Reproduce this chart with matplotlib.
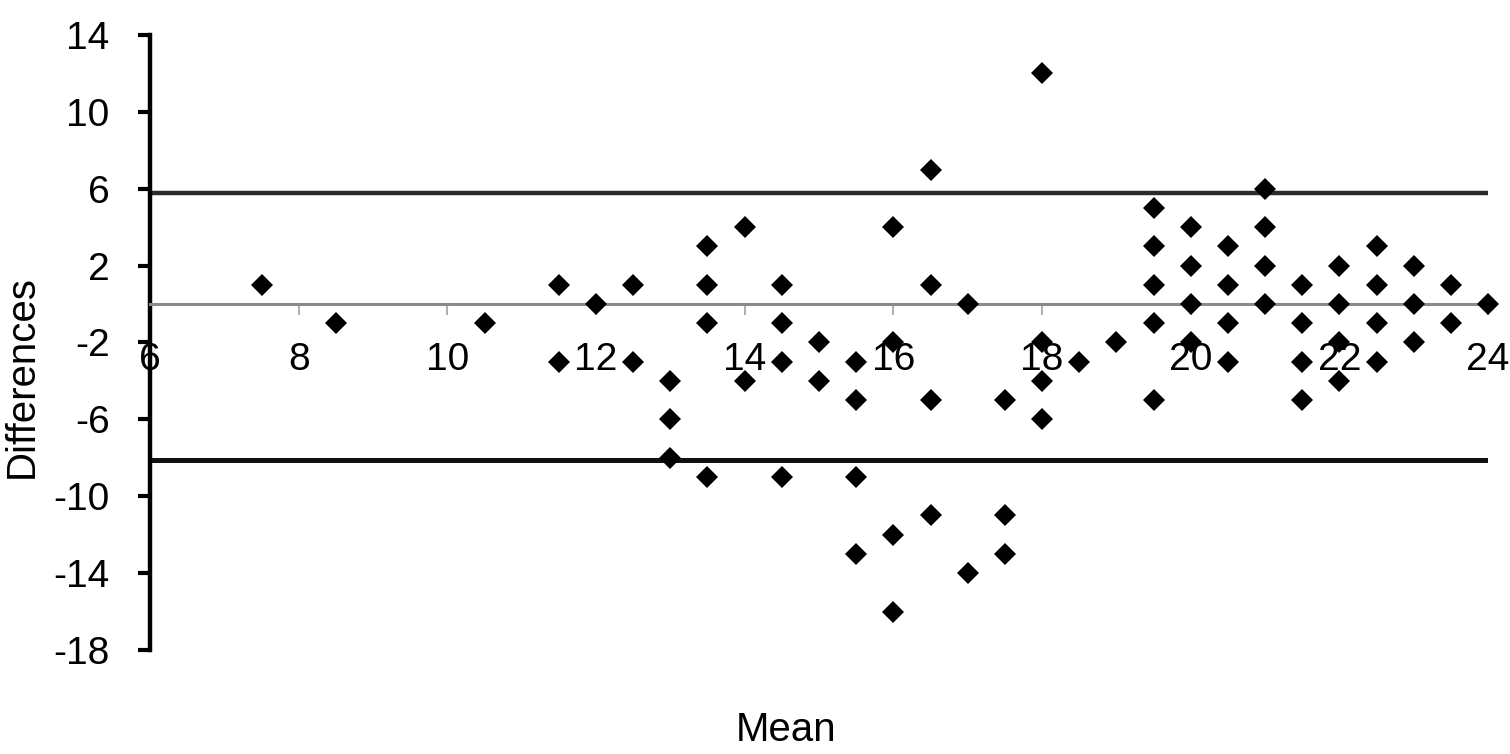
import matplotlib
matplotlib.use("Agg")
import matplotlib.pyplot as plt

# Bland-Altman style data: mean of two measurements vs their difference
mean_vals = [
    7.5, 8.5, 10.5,
    11.5, 11.5, 12, 12.5, 12.5,
    13, 13, 13,
    13.5, 13.5, 13.5, 13.5,
    14, 14,
    14.5, 14.5, 14.5, 14.5,
    15, 15,
    15.5, 15.5, 15.5, 15.5,
    16, 16, 16, 16,
    16.5, 16.5, 16.5, 16.5,
    17, 17,
    17.5, 17.5, 17.5,
    18, 18, 18, 18,
    18.5, 19,
    19.5, 19.5, 19.5, 19.5, 19.5,
    20, 20, 20, 20,
    20.5, 20.5, 20.5, 20.5,
    21, 21, 21, 21,
    21.5, 21.5, 21.5, 21.5,
    22, 22, 22, 22,
    22.5, 22.5, 22.5, 22.5,
    23, 23, 23,
    23.5, 23.5,
    24,
]
diff_vals = [
    1, -1, -1,
    1, -3, 0, 1, -3,
    -4, -6, -8,
    3, 1, -1, -9,
    4, -4,
    1, -1, -3, -9,
    -2, -4,
    -3, -5, -9, -13,
    4, -2, -12, -16,
    7, 1, -5, -11,
    0, -14,
    -5, -11, -13,
    12, -2, -4, -6,
    -3, -2,
    5, 3, 1, -1, -5,
    4, 2, 0, -2,
    3, 1, -1, -3,
    6, 4, 2, 0,
    1, -1, -3, -5,
    2, 0, -2, -4,
    3, 1, -1, -3,
    2, 0, -2,
    1, -1,
    0,
]
upper_limit = 5.8
lower_limit = -8.1
x_ticks = [6, 8, 10, 12, 14, 16, 18, 20, 22, 24]
y_ticks = [14, 10, 6, 2, -2, -6, -10, -14, -18]

plt.rcParams["font.family"] = ["Liberation Sans", "DejaVu Sans"]
plt.rcParams["axes.unicode_minus"] = False

fig = plt.figure(figsize=(15.1, 7.54), dpi=100)
ax = fig.add_axes([150 / 1510, 1 - 650 / 754, (1488 - 150) / 1510, (650 - 35) / 754])

ax.set_xlim(6, 24)
ax.set_ylim(-18, 14)

# limits of agreement
ax.axhline(upper_limit, color="#2b2b2b", lw=3.2, zorder=2)
ax.axhline(lower_limit, color="#111111", lw=3.6, zorder=2)

ax.plot(mean_vals, diff_vals, linestyle="none", marker="D", markersize=11,
        color="black", markeredgewidth=0, clip_on=False, zorder=3)

for side in ("top", "right"):
    ax.spines[side].set_visible(False)
ax.spines["left"].set_linewidth(3.2)
ax.spines["left"].set_color("black")
ax.spines["bottom"].set_position(("data", 0))
ax.spines["bottom"].set_color("#8a8a8a")
ax.spines["bottom"].set_linewidth(2.2)

ax.set_xticks(x_ticks)
ax.set_yticks(y_ticks)
ax.tick_params(axis="x", length=8, width=1.5, color="#b0b0b0", pad=19,
               labelsize=28, direction="out")
ax.tick_params(axis="y", length=9, width=3, color="black", pad=20,
               labelsize=28, direction="out")

fig.text(22 / 1510, 1 - 377 / 754, "Differences", rotation=90,
         ha="center", va="center", fontsize=29)
fig.text(786 / 1510, 1 - 730 / 754, "Mean", ha="center", va="center",
         fontsize=29)

fig.savefig("out.png", dpi=100, facecolor="white")
